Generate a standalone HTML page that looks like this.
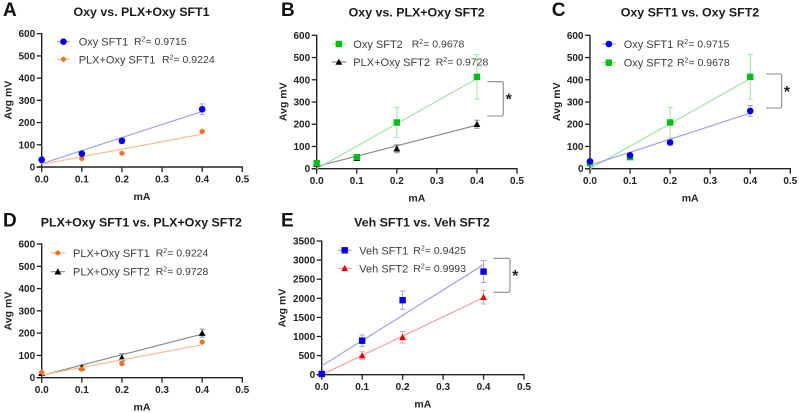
<!DOCTYPE html>
<html lang="en">
<head>
<meta charset="utf-8">
<title>Avg mV vs mA panels</title>
<style>
html,body{margin:0;padding:0;background:#fff;}
body{width:799px;height:413px;overflow:hidden;}
svg{display:block;font-family:"Liberation Sans",Arial,sans-serif;filter:blur(0.3px);}
</style>
</head>
<body>
<svg id="figure" width="799" height="413" viewBox="0 0 799 413" xmlns="http://www.w3.org/2000/svg"></svg>
<script>
const xValues = [0, 0.1, 0.2, 0.4];
const xTickLabels = ['0.0', '0.1', '0.2', '0.3', '0.4', '0.5'];
const xTickValues = [0, 0.1, 0.2, 0.3, 0.4, 0.5];
const yTickValuesMv = [0, 100, 200, 300, 400, 500, 600];
const yTickValuesVeh = [0, 500, 1000, 1500, 2000, 2500, 3000, 3500];
const fitX = [0, 0.4];

const oxySft1Means = [33, 60, 118, 260];
const oxySft1Errors = [7, 8, 12, 24];
const oxySft1Fit = [15, 250];

const plxSft1Means = [25, 38, 62, 160];
const plxSft1Errors = [3, 5, 5, 5];
const plxSft1Fit = [12, 148];

const oxySft2Means = [25, 52, 208, 413];
const oxySft2Errors = [3, 5, 68, 100];
const oxySft2Fit = [0, 405];

const plxSft2Means = [20, 47, 90, 200];
const plxSft2Errors = [5, 8, 18, 18];
const plxSft2Fit = [10, 196];

const vehSft1Means = [20, 890, 1950, 2700];
const vehSft1Errors = [10, 150, 240, 290];
const vehSft1Fit = [230, 2880];

const vehSft2Means = [10, 500, 980, 2030];
const vehSft2Errors = [10, 100, 150, 180];
const vehSft2Fit = [0, 2020];

const seriesOxy1 = {label:'Oxy SFT1', r2:'0.9715', means:oxySft1Means, errors:oxySft1Errors, fit:oxySft1Fit, color:'#0000ee', light:'#a0a0f2', shape:'circle'};
const seriesPlx1 = {label:'PLX+Oxy SFT1', r2:'0.9224', means:plxSft1Means, errors:plxSft1Errors, fit:plxSft1Fit, color:'#f4701e', light:'#f6bd94', shape:'diamond'};
const seriesOxy2 = {label:'Oxy SFT2', r2:'0.9678', means:oxySft2Means, errors:oxySft2Errors, fit:oxySft2Fit, color:'#00c010', light:'#a0e4a0', shape:'square'};
const seriesPlx2 = {label:'PLX+Oxy SFT2', r2:'0.9728', means:plxSft2Means, errors:plxSft2Errors, fit:plxSft2Fit, color:'#000000', light:'#8c8c8c', shape:'triangle'};
const seriesVeh1 = {label:'Veh SFT1', r2:'0.9425', means:vehSft1Means, errors:vehSft1Errors, fit:vehSft1Fit, color:'#0000ee', light:'#a0a0f2', shape:'square'};
const seriesVeh2 = {label:'Veh SFT2', r2:'0.9993', means:vehSft2Means, errors:vehSft2Errors, fit:vehSft2Fit, color:'#f00000', light:'#f4a0a0', shape:'triangle'};

const panels = [
  {id:'a', letter:'A', lx:3, ly:16, title:'Oxy vs. PLX+Oxy SFT1', tx:141.5, ty:16, x0:41.7, x1:242.3, y0:167, y1:33.7, yMax:600, yTicks:yTickValuesMv, labelOffset:-30, ylabelY:100,
   series:[seriesPlx1, seriesOxy1], legendOrder:[seriesOxy1, seriesPlx1],
   legend:{x0:57, x1:70, tx:78.7, rows:[[41.7,134],[59.3,162]]}},
  {id:'b', letter:'B', lx:281, ly:16, title:'Oxy vs. PLX+Oxy SFT2', tx:416.7, ty:16.5, x0:316.7, x1:517, y0:168.7, y1:35.3, yMax:600, yTicks:yTickValuesMv, labelOffset:-30, ylabelY:101.7,
   series:[seriesPlx2, seriesOxy2], legendOrder:[seriesOxy2, seriesPlx2],
   legend:{x0:331.7, x1:346, tx:353.3, rows:[[44,411.7],[62,435.7]]},
   bracket:{x0:487.3, x1:503.3, y0:81.7, y1:116, sx:508.7, sy:97.7}},
  {id:'c', letter:'C', lx:551.7, ly:16, title:'Oxy SFT1 vs. Oxy SFT2', tx:690, ty:16.5, x0:590, x1:790.3, y0:168.7, y1:35.3, yMax:600, yTicks:yTickValuesMv, labelOffset:-30, ylabelY:101.7,
   series:[seriesOxy2, seriesOxy1], legendOrder:[seriesOxy1, seriesOxy2],
   legend:{x0:601.7, x1:616, tx:623.7, rows:[[44,676.7],[62.7,677]]},
   bracket:{x0:766, x1:781.7, y0:74, y1:108, sx:787, sy:90}},
  {id:'d', letter:'D', lx:3, ly:226.7, title:'PLX+Oxy SFT1 vs. PLX+Oxy SFT2', tx:141.3, ty:226.7, x0:41.7, x1:242.3, y0:377.7, y1:244, yMax:600, yTicks:yTickValuesMv, labelOffset:-30, ylabelY:311,
   series:[seriesPlx2, seriesPlx1], legendOrder:[seriesPlx1, seriesPlx2],
   legend:{x0:50.7, x1:65, tx:73, rows:[[253,155.7],[271.7,155.7]]}},
  {id:'e', letter:'E', lx:281, ly:226.7, title:'Veh SFT1 vs. Veh SFT2', tx:422, ty:226.7, x0:321.7, x1:524, y0:374.7, y1:241, yMax:3500, yTicks:yTickValuesVeh, labelOffset:-36, ylabelY:308,
   series:[seriesVeh2, seriesVeh1], legendOrder:[seriesVeh1, seriesVeh2],
   legend:{x0:337.7, x1:351.7, tx:359.3, rows:[[250.3,413.3],[268.3,413.3]]},
   bracket:{x0:493.3, x1:510, y0:258.3, y1:292.3, sx:515.3, sy:274}}
];

const NS = 'http://www.w3.org/2000/svg';
const figure = document.getElementById('figure');

function make(parent, tag, attrs, text) {
  const el = document.createElementNS(NS, tag);
  for (const k in attrs) el.setAttribute(k, attrs[k]);
  if (text !== undefined) el.textContent = text;
  parent.appendChild(el);
  return el;
}
function xScale(p, v) { return p.x0 + (v / 0.5) * (p.x1 - p.x0); }
function yScale(p, v) { return p.y0 - (v / p.yMax) * (p.y0 - p.y1); }

function drawMarker(parent, shape, cx, cy, color) {
  let m;
  if (shape === 'circle') {
    m = make(parent, 'circle', {cx:cx, cy:cy, r:3.3, fill:color});
  } else if (shape === 'square') {
    m = make(parent, 'rect', {x:cx-3.2, y:cy-3.2, width:6.4, height:6.4, fill:color});
  } else if (shape === 'diamond') {
    m = make(parent, 'polygon', {points:`${cx},${cy-2.9} ${cx+2.5},${cy-1} ${cx+2.5},${cy+1} ${cx},${cy+2.9} ${cx-2.5},${cy+1} ${cx-2.5},${cy-1}`, fill:color});
  } else {
    m = make(parent, 'polygon', {points:`${cx},${cy-3.4} ${cx+3.4},${cy+2.8} ${cx-3.4},${cy+2.8}`, fill:color});
  }
  
  
  return m;
}

panels.forEach(function (p) {
  const g = make(figure, 'g', {});
  
  

  const letter = make(g, 'text', {x:p.lx, y:p.ly, 'font-size':19, 'font-weight':'bold', fill:'#111'}, p.letter);
  
  

  const title = make(g, 'text', {x:p.tx, y:p.ty, 'font-size':12.4, 'font-weight':'bold', 'text-anchor':'middle', fill:'#1a1a1a'}, p.title);
  
  

  // axes
  const yAxis = make(g, 'line', {x1:p.x0, x2:p.x0, y1:p.y1 - 0.6, y2:p.y0 + 0.6, stroke:'#222', 'stroke-width':1.4});
  
  
  const xAxis = make(g, 'line', {x1:p.x0 - 5, x2:p.x1 + 0.6, y1:p.y0, y2:p.y0, stroke:'#222', 'stroke-width':1.4});
  
  

  xTickValues.forEach(function (v, i) {
    const x = xScale(p, v);
    const tick = make(g, 'line', {x1:x, x2:x, y1:p.y0, y2:p.y0 + 5, stroke:'#222', 'stroke-width':1.3});
    
    
    const label = make(g, 'text', {x:x, y:p.y0 + 15.5, 'font-size':10, 'font-weight':'bold', 'text-anchor':'middle', fill:'#222'}, xTickLabels[i]);
    
    
  });
  p.yTicks.forEach(function (v) {
    const y = yScale(p, v);
    const tick = make(g, 'line', {x1:p.x0 - 5, x2:p.x0, y1:y, y2:y, stroke:'#222', 'stroke-width':1.3});
    
    
    const label = make(g, 'text', {x:p.x0 - 6.5, y:y + 3.5, 'font-size':10, 'font-weight':'bold', 'text-anchor':'end', fill:'#222'}, String(v));
    
    
  });

  const xTitle = make(g, 'text', {x:(p.x0 + p.x1) / 2, y:p.y0 + 33, 'font-size':10.5, 'font-weight':'bold', 'text-anchor':'middle', fill:'#222'}, 'mA');
  
  
  const yx = p.x0 + p.labelOffset;
  const yTitle = make(g, 'text', {x:yx, y:p.ylabelY, 'font-size':10.5, 'font-weight':'bold', 'text-anchor':'middle', fill:'#222', transform:`rotate(-90 ${yx} ${p.ylabelY})`}, 'Avg mV');
  
  

  // series
  p.series.forEach(function (s) {
    const sg = make(g, 'g', {});
    
    
    const fit = make(sg, 'line', {x1:xScale(p, fitX[0]), y1:yScale(p, s.fit[0]), x2:xScale(p, fitX[1]), y2:yScale(p, s.fit[1]), stroke:s.light, 'stroke-width':1.2});
    
    
    xValues.forEach(function (xv, i) {
      const x = xScale(p, xv);
      const top = yScale(p, s.means[i] + s.errors[i]);
      const bot = yScale(p, Math.max(0, s.means[i] - s.errors[i]));
      const bar = make(sg, 'path', {d:`M${x - 2.6} ${top}H${x + 2.6}M${x} ${top}V${bot}M${x - 2.6} ${bot}H${x + 2.6}`, stroke:s.light, 'stroke-width':1, fill:'none'});
      
      
      drawMarker(sg, s.shape, x, yScale(p, s.means[i]), s.color);
    });
  });

  // legend
  p.legendOrder.forEach(function (s, i) {
    const row = p.legend.rows[i];
    const lg = make(g, 'g', {});
    
    
    const key = make(lg, 'line', {x1:p.legend.x0, x2:p.legend.x1, y1:row[0], y2:row[0], stroke:s.light, 'stroke-width':1.2});
    
    
    drawMarker(lg, s.shape, (p.legend.x0 + p.legend.x1) / 2, row[0], s.color);
    const name = make(lg, 'text', {x:p.legend.tx, y:row[0] + 4, 'font-size':11, fill:'#3c3c3c'}, s.label);
    
    
    const r2 = make(lg, 'text', {x:row[1], y:row[0] + 3.5, 'font-size':10.5, fill:'#3c3c3c'});
    
    
    make(r2, 'tspan', {}, 'R');
    make(r2, 'tspan', {'font-size':7, dy:-3.5}, '2');
    make(r2, 'tspan', {dy:3.5}, '= ' + s.r2);
  });

  // significance bracket
  if (p.bracket) {
    const b = p.bracket;
    const br = make(g, 'path', {d:`M${b.x0} ${b.y0}H${b.x1 - 2}Q${b.x1} ${b.y0} ${b.x1} ${b.y0 + 2}V${b.y1 - 2}Q${b.x1} ${b.y1} ${b.x1 - 2} ${b.y1}H${b.x0}`, fill:'none', stroke:'#8a8a8a', 'stroke-width':1.1});
    
    
    const star = make(g, 'text', {x:b.sx, y:b.sy + 7, 'font-size':16, 'font-weight':'bold', 'text-anchor':'middle', fill:'#222'}, '*');
    
    
  }
});
</script>
</body>
</html>
